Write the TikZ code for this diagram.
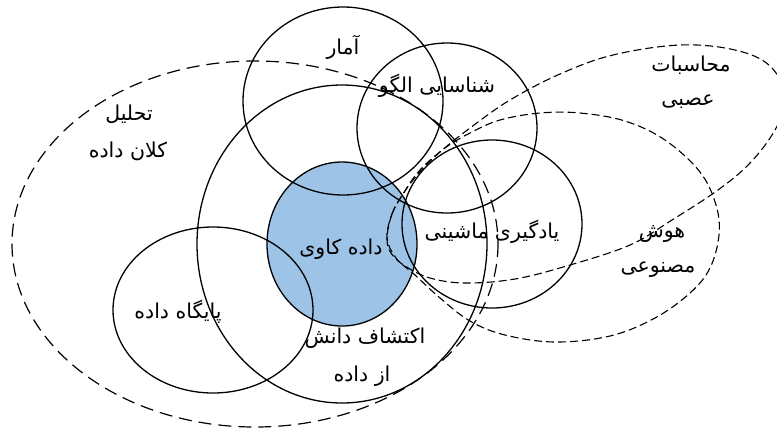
\documentclass[tikz,border=0pt]{standalone}
\usepackage{fontspec}
\newfontfamily\persianfont[Script=Arabic]{DejaVu Sans}
\TeXXeTstate=1
\definecolor{minefill}{RGB}{157,195,230}

\begin{document}
\begin{tikzpicture}[x=1pt,y=-1pt,
  ring/.style={line width=1.3pt},
  bigdash/.style={line width=1.2pt,dash pattern=on 13pt off 7pt},
  smalldash/.style={line width=1.1pt,dash pattern=on 8pt off 4pt},
  fa/.style={inner sep=0pt,font=\persianfont\fontsize{20.5}{24}\selectfont}]
\path[use as bounding box] (0,0) rectangle (777.0,432.0);
\clip (0,0) rectangle (777.0,432.0);
\fill[minefill] (342,244) ellipse [x radius=75,y radius=82];
\draw[ring] (342,244) ellipse [x radius=75,y radius=82];
\draw[ring] (342,244) ellipse [x radius=145,y radius=159];
\draw[ring] (343,101) ellipse [x radius=100,y radius=94];
\draw[ring] (447,128) ellipse [x radius=90,y radius=85];
\draw[ring] (492,224) ellipse [x radius=90,y radius=84];
\draw[ring] (213,310) ellipse [x radius=100,y radius=83];
\draw[bigdash] (255,244) ellipse [x radius=243,y radius=183];
\draw[smalldash] plot[smooth cycle,tension=0.6] coordinates {(387,238) (392,214) (403,194) (418,174) (440,152) (470,128) (510,100) (560,74) (613,55) (680,45) (735,50) (770,66) (786,98) (775,130) (750,163) (718,190) (672,220) (630,245) (570,265) (515,279) (465,283) (430,278) (405,266) (391,253)};
\draw[smalldash] plot[smooth cycle,tension=0.6] coordinates {(387,238) (392,214) (403,194) (420,170) (445,148) (470,133) (500,120) (540,113) (580,113) (625,121) (665,140) (700,172) (716,205) (719,235) (710,268) (690,293) (655,318) (610,336) (555,342) (505,335) (470,321) (440,298) (415,275) (396,258)};
\node[fa] (amar) at (343,47) {\beginR آمار\endR};
\node[fa] (olgu) at (437,86) {\beginR شناسایی الگو\endR};
\node[fa] (tahlil) at (129,114) {\beginR تحلیل\endR};
\node[fa] (kalan) at (128,151) {\beginR کلان داده\endR};
\node[fa] (mohasebat) at (691,65) {\beginR محاسبات\endR};
\node[fa] (asabi) at (688,102) {\beginR عصبی\endR};
\node[fa] (kavi) at (341,249) {\beginR داده کاوی\endR};
\node[fa] (yadgiri) at (492,232) {\beginR یادگیری ماشینی\endR};
\node[fa] (hoosh) at (662,234) {\beginR هوش\endR};
\node[fa] (masnooi) at (658,270) {\beginR مصنوعی\endR};
\node[fa] (paygah) at (178,312) {\beginR پایگاه داده\endR};
\node[fa] (kashf) at (365,338) {\beginR اکتشاف دانش\endR};
\node[fa] (azdade) at (362,376) {\beginR از داده\endR};
\end{tikzpicture}
\end{document}
